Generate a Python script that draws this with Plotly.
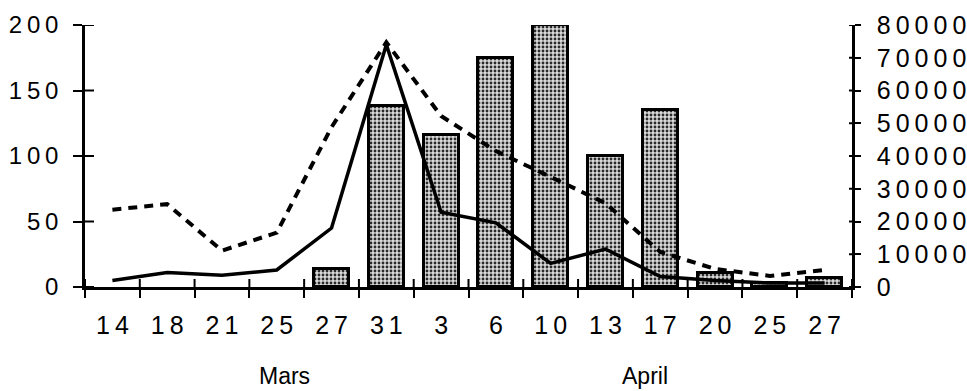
import plotly.graph_objects as go

# Sampling days (March then April) and the three series
days = ["14", "18", "21", "25", "27", "31", "3", "6", "10", "13", "17", "20", "25", "27"]
month_labels = ["Mars", "April"]
bar_values = [None, None, None, None, 14, 138, 116, 175, 200, 100, 135, 11, 3, 7]
solid_values = [5, 11, 9, 13, 45, 185, 57, 49, 18, 29, 8, 5, 3, 3]
dashed_values = [23600, 25300, 11100, 16600, 48800, 74700, 52200, 41500,
                 33600, 25600, 10700, 5500, 3400, 5200]
left_ticks = [0, 50, 100, 150, 200]
right_ticks = [0, 10000, 20000, 30000, 40000, 50000, 60000, 70000, 80000]

n = len(days)
x = list(range(n))
bounds = [i - 0.5 for i in range(n + 1)]

FONT = "Liberation Sans, Arial, Helvetica, sans-serif"
THIN = "\u2009"


def spaced(s, sep=THIN):
    return sep.join(str(s))


fig = go.Figure()

fig.add_trace(go.Bar(
    x=x, y=bar_values, width=0.64,
    marker=dict(
        color="#dadada",
        line=dict(color="black", width=3),
        pattern=dict(shape=".", fgcolor="#2a2a2a", bgcolor="#dadada",
                     size=4, solidity=0.4),
    ),
    yaxis="y",
))

fig.add_trace(go.Scatter(
    x=x, y=dashed_values, mode="lines",
    line=dict(color="black", width=4, dash="9px,7px"),
    yaxis="y2",
))

fig.add_trace(go.Scatter(
    x=x, y=solid_values, mode="lines",
    line=dict(color="black", width=3.5),
    yaxis="y",
))

axis_common = dict(showgrid=False, zeroline=False, tickcolor="black",
                   tickwidth=2, automargin=False)

# Tick marks cross the axes: the outside half comes from the axis itself,
# the inside half is drawn as short pixel-sized segments.
tick_shapes = []
for b in bounds:
    tick_shapes.append(dict(type="line", xref="x", x0=b, x1=b,
                            yref="paper", ysizemode="pixel", yanchor=0, y0=0, y1=8,
                            line=dict(color="black", width=2)))
for v in left_ticks:
    tick_shapes.append(dict(type="line", yref="y", y0=v, y1=v,
                            xref="paper", xsizemode="pixel", xanchor=0, x0=0, x1=9,
                            line=dict(color="black", width=2)))
for v in right_ticks:
    tick_shapes.append(dict(type="line", yref="y2", y0=v, y1=v,
                            xref="paper", xsizemode="pixel", xanchor=1, x0=-3, x1=0,
                            line=dict(color="black", width=2)))

fig.update_layout(
    template="none",
    width=967, height=391,
    margin=dict(l=85, r=115, t=25, b=104, autoexpand=False),
    paper_bgcolor="white", plot_bgcolor="white",
    showlegend=False, bargap=0,
    font=dict(family=FONT, color="black", size=25),
    xaxis=dict(
        range=[-0.5, n - 0.5], tickmode="array", tickvals=x,
        ticktext=[spaced(d) for d in days], ticks="",
        showline=True, linecolor="black", linewidth=2.5,
        ticklabelstandoff=14, tickfont=dict(size=25),
        minor=dict(tickmode="array", tickvals=bounds, ticks="outside",
                   ticklen=8, tickwidth=2, tickcolor="black", showgrid=False),
        **axis_common,
    ),
    yaxis=dict(
        range=[0, 200], tickmode="array", tickvals=left_ticks,
        ticktext=[spaced(v) for v in left_ticks], ticks="outside", ticklen=9,
        showline=True, linecolor="black", linewidth=2.5,
        ticklabelstandoff=10, tickfont=dict(size=24),
        **axis_common,
    ),
    yaxis2=dict(
        overlaying="y", anchor="x", side="right",
        range=[0, 80000], tickmode="array", tickvals=right_ticks,
        ticktext=[spaced(v) for v in right_ticks],
        ticks="outside", ticklen=6,
        showline=True, linecolor="black", linewidth=2.5,
        ticklabelstandoff=11, tickfont=dict(size=25),
        **axis_common,
    ),
    shapes=tick_shapes,
    annotations=[
        dict(text=month_labels[0], x=0.2595, y=-0.34, xref="paper", yref="paper",
             xanchor="center", yanchor="middle", showarrow=False,
             font=dict(size=23, family=FONT)),
        dict(text=month_labels[1], x=0.730, y=-0.34, xref="paper", yref="paper",
             xanchor="center", yanchor="middle", showarrow=False,
             font=dict(size=23, family=FONT)),
    ],
)

fig.write_html("out.html")
